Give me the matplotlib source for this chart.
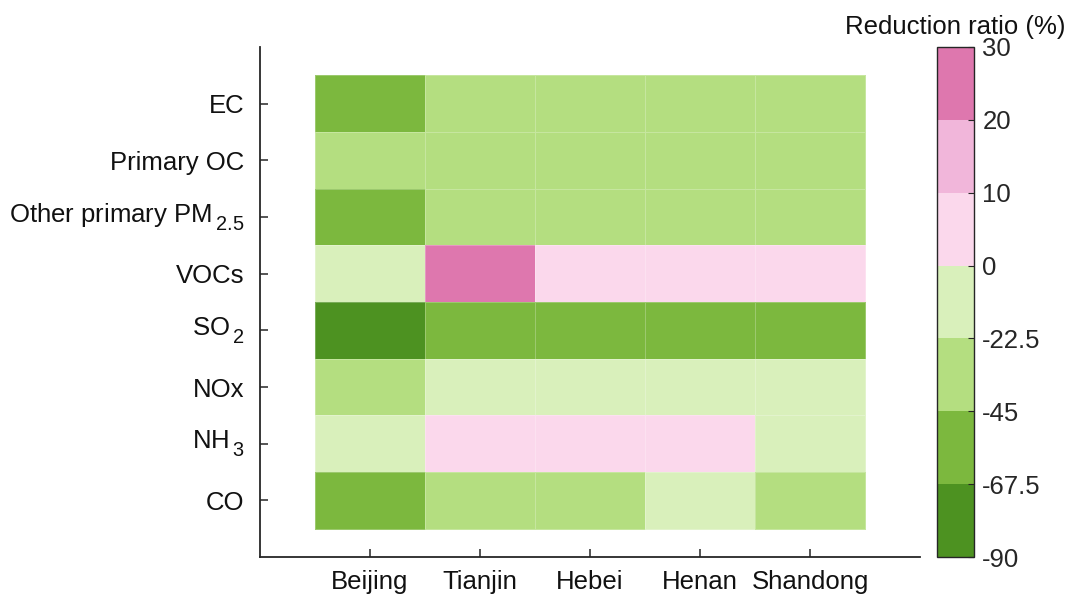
import numpy as np
import matplotlib
matplotlib.use("Agg")
import matplotlib.pyplot as plt
import matplotlib._mathtext as mtext
from matplotlib.colors import ListedColormap, BoundaryNorm

# Provinces / municipalities (columns) and emitted species (rows)
regions = ["Beijing", "Tianjin", "Hebei", "Henan", "Shandong"]
species = ["EC", "Primary OC", r"Other primary PM$_{\,2.5}$", "VOCs",
           r"SO$_{\,2}$", "NOx", r"NH$_{\,3}$", "CO"]

# Reduction ratio (%) per species, one list per region row-wise
ec        = [-55, -32, -32, -32, -32]
prim_oc   = [-32, -32, -32, -32, -32]
other_pm  = [-55, -32, -32, -32, -32]
vocs      = [-10, 25, 5, 5, 5]
so2       = [-78, -55, -55, -55, -55]
nox       = [-32, -10, -10, -10, -10]
nh3       = [-10, 5, 5, 5, -10]
co        = [-55, -32, -32, -10, -32]

levels = [-90, -67.5, -45, -22.5, 0, 10, 20, 30]
level_labels = ["-90", "-67.5", "-45", "-22.5", "0", "10", "20", "30"]
colors = ["#4d9221", "#7cb83e", "#b4de80", "#d9f0bb",
          "#fbd8ec", "#f1b6da", "#de77ae"]

data = np.array([ec, prim_oc, other_pm, vocs, so2, nox, nh3, co])

plt.rcParams["font.family"] = ["Liberation Sans", "DejaVu Sans"]
plt.rcParams["mathtext.fontset"] = "custom"
plt.rcParams["mathtext.rm"] = "Liberation Sans"
plt.rcParams["mathtext.default"] = "regular"
# deeper, slightly larger subscripts (TeX-interpreter look)
mtext.FontConstantsBase.sub1 = 0.6
mtext.FontConstantsBase.sub2 = 0.75
mtext.SHRINK_FACTOR = 0.78

fs = 18.5
fig = plt.figure(figsize=(10.7, 6.04), dpi=100)
ax = fig.add_axes([0.243, 0.0778, 0.617, 0.8444])
cax = fig.add_axes([0.8757, 0.0778, 0.0346, 0.8444])

cmap = ListedColormap(colors)
norm = BoundaryNorm(levels, cmap.N)

xe = np.arange(len(regions) + 1) + 0.5
ye = np.arange(len(species) + 1) + 0.5
mesh = ax.pcolormesh(xe, ye, data, cmap=cmap, norm=norm,
                     edgecolor=(1, 1, 1, 0.25), linewidth=0.6)

ax.set_xlim(0, len(regions) + 1)
ax.set_ylim(len(species) + 1, 0)
ax.set_xticks(np.arange(1, len(regions) + 1))
ax.set_xticklabels(regions)
ax.set_yticks(np.arange(1, len(species) + 1))
ax.set_yticklabels(species)
for lab in ax.get_yticklabels():
    if "$" in lab.get_text():
        lab.set_verticalalignment("center")

dark = "#262626"
for side in ("top", "right"):
    ax.spines[side].set_visible(False)
for side in ("left", "bottom"):
    ax.spines[side].set_color(dark)
    ax.spines[side].set_linewidth(1.3)
ax.tick_params(axis="both", direction="in", length=6, width=1.1,
               color=dark, labelsize=fs, labelcolor="#111111")
ax.tick_params(axis="x", pad=9)
ax.tick_params(axis="y", pad=11)

cb = fig.colorbar(mesh, cax=cax, ticks=levels, spacing="uniform")
cb.ax.set_yticklabels(level_labels)
cb.outline.set_edgecolor(dark)
cb.outline.set_linewidth(1.0)
cb.ax.tick_params(direction="in", length=4, width=0.8, color=dark,
                  labelsize=fs, labelcolor=dark, pad=6)
cb.ax.set_title("Reduction ratio (%)", fontsize=fs, color="#111111", pad=9)

fig.savefig("out.png", dpi=100)
